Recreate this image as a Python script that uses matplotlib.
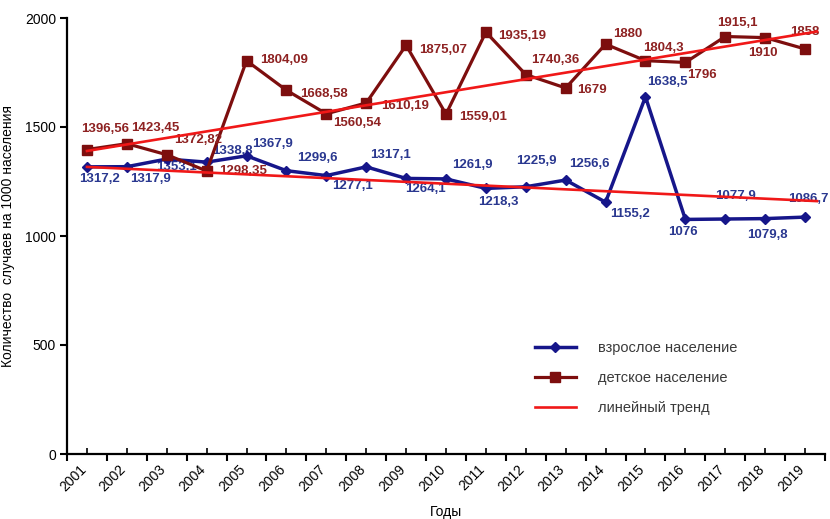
import numpy as np
import matplotlib
matplotlib.use('Agg')
from matplotlib import pyplot as plt
from matplotlib.lines import Line2D
from matplotlib.transforms import ScaledTranslation

years = list(range(2001, 2020))
adults = [1317.2, 1317.9, 1353.1, 1338.8, 1367.9, 1299.6, 1277.1, 1317.1, 1264.1, 1261.9,
          1218.3, 1225.9, 1256.6, 1155.2, 1638.5, 1076, 1077.9, 1079.8, 1086.7]
children = [1396.56, 1423.45, 1372.82, 1298.35, 1804.09, 1668.58, 1560.54, 1610.19, 1875.07, 1559.01,
            1935.19, 1740.36, 1679, 1880, 1804.3, 1796, 1915.1, 1910, 1858]
adult_labels = ['1317,2', '1317,9', '1353,1', '1338,8', '1367,9', '1299,6', '1277,1', '1317,1', '1264,1', '1261,9',
                '1218,3', '1225,9', '1256,6', '1155,2', '1638,5', '1076', '1077,9', '1079,8', '1086,7']
child_labels = ['1396,56', '1423,45', '1372,82', '1298,35', '1804,09', '1668,58', '1560,54', '1610,19', '1875,07', '1559,01',
                '1935,19', '1740,36', '1679', '1880', '1804,3', '1796', '1915,1', '1910', '1858']
# linear trend lines, start and end
trend_years = [2001, 2019.3]
adult_trend = [1317, 1160]
child_trend = [1390, 1938]
series_names = ['взрослое население', 'детское население', 'линейный тренд']

# label offsets in pixels (dx, dy) from each point
adult_off = [(13, -12), (24, -12), (10, -8), (26, 11), (26, 12), (31, 13), (26, -10), (24, 12), (19, -11), (26, 14),
             (12, -14), (11, 26), (24, 16), (24, -12), (22, 15), (-2, -13), (10, 23), (2, -16), (3, 18)]
child_off = [(18, 21), (28, 16), (31, 15), (36, 0), (38, 1), (38, -4), (31, -9), (39, -3), (37, -5), (37, -3),
             (36, -4), (29, 15), (26, -2), (22, 10), (18, 13), (17, -13), (12, 14), (-2, -15), (0, 17)]

plt.rcParams['font.family'] = ['Liberation Sans', 'DejaVu Sans']

BLUE = '#16168a'
BLUE_TXT = '#2a3890'
DARK_RED = '#7d0e0e'
RED_TXT = '#8e2222'
TREND = '#f01818'

fig = plt.figure(figsize=(8.3, 5.19), dpi=100)
ax = fig.add_axes([67/830, 1-454/519, (825-67)/830, (454-18)/519])

x = np.arange(len(years))
ax.plot(x, adults, color=BLUE, lw=2.5, marker='D', ms=5.5, mec=BLUE, mfc=BLUE, zorder=3)
ax.plot(x, children, color=DARK_RED, lw=2.3, marker='s', ms=7.5, mec=DARK_RED, mfc=DARK_RED, zorder=4)

xt = np.array(trend_years) - years[0]
ax.plot(xt, adult_trend, color=TREND, lw=1.9, zorder=6)
ax.plot(xt, child_trend, color=TREND, lw=1.9, zorder=6)

for i in range(len(years)):
    ax.annotate(adult_labels[i], (x[i], adults[i]), xytext=adult_off[i], textcoords='offset pixels',
                ha='center', va='center', fontsize=9.5, fontweight='bold', color=BLUE_TXT, zorder=2)
    ax.annotate(child_labels[i], (x[i], children[i]), xytext=child_off[i], textcoords='offset pixels',
                ha='center', va='center', fontsize=9.5, fontweight='bold', color=RED_TXT, zorder=5)

ax.set_xlim(-0.5, len(years) - 0.5)
ax.set_ylim(0, 2000)
ax.set_yticks([0, 500, 1000, 1500, 2000])
ax.tick_params(axis='y', direction='out', length=5, width=1.5, labelsize=10, pad=3)
ax.set_xticks(x, [str(y) for y in years], rotation=45, ha='right', rotation_mode='anchor')
ax.set_xticks(np.arange(-0.5, len(years)), minor=True)
ax.tick_params(axis='x', which='major', direction='in', length=4, width=1.2, labelsize=10, pad=6)
ax.tick_params(axis='x', which='minor', direction='out', length=5, width=1.5)
shift = ScaledTranslation(-8/100, 0, fig.dpi_scale_trans)
for lab in ax.get_xticklabels():
    lab.set_transform(lab.get_transform() + shift)
for sp in ('top', 'right'):
    ax.spines[sp].set_visible(False)
for sp in ('left', 'bottom'):
    ax.spines[sp].set_linewidth(1.6)

ax.set_ylabel('Количество  случаев на 1000 населения', fontsize=10, labelpad=7)
ax.set_xlabel('Годы', fontsize=10, labelpad=8)

handles = [Line2D([], [], color=BLUE, lw=2.5, marker='D', ms=5.5),
           Line2D([], [], color=DARK_RED, lw=2.3, marker='s', ms=7.5),
           Line2D([], [], color=TREND, lw=1.9)]
leg = ax.legend(handles, series_names, loc='center left', bbox_to_anchor=(0.6, 0.175), frameon=False,
                fontsize=10.5, handlelength=2.8, handletextpad=1.5, labelspacing=1.1)
for t in leg.get_texts():
    t.set_color('#3a3a3a')

fig.savefig('out.png', dpi=100)
